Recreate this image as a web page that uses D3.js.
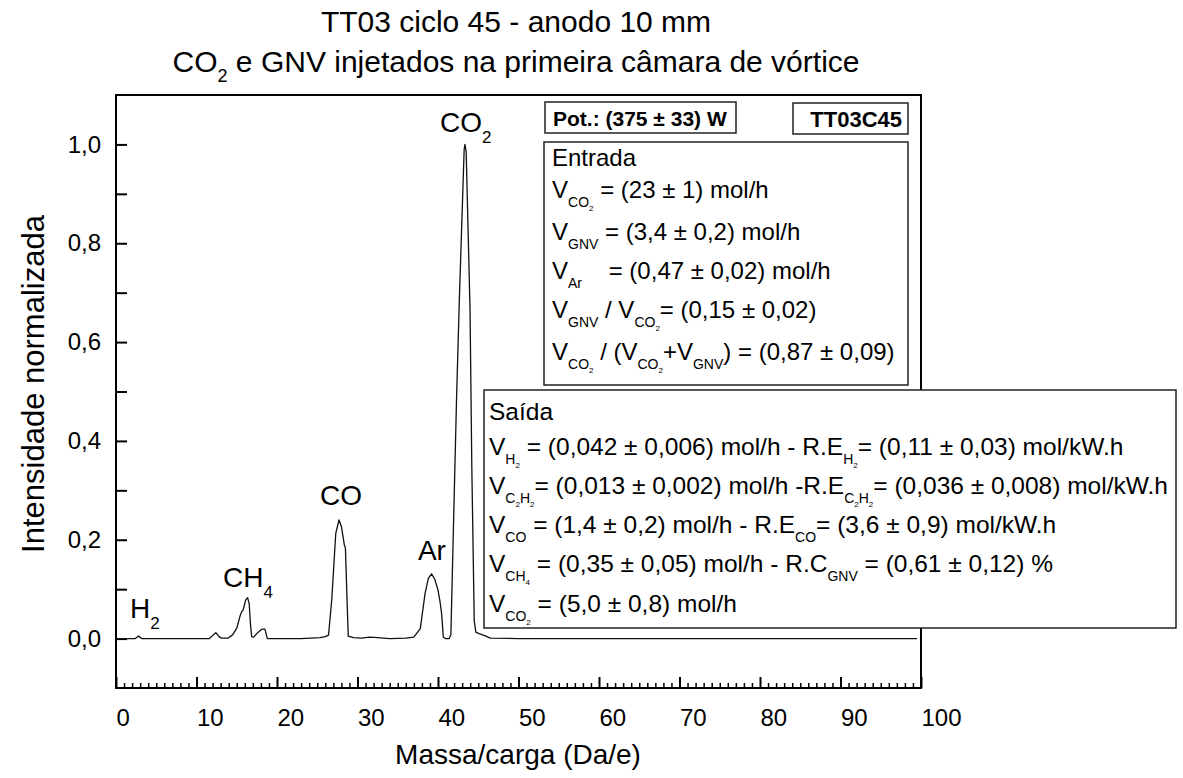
<!DOCTYPE html>
<html><head><meta charset="utf-8">
<script src="https://cdn.jsdelivr.net/npm/d3@7"></script>
<style>
body{margin:0;background:#fff}
svg{display:block}
text{font-family:Arial,"Liberation Sans",sans-serif;fill:#000}
</style>
</head><body>
<svg id="chart" width="1183" height="778"></svg>
<script>
// ---- data ----
const massa = [1.0,2.4,2.8,3.2,6,9,11.6,12.0,12.4,12.8,13.1,13.95,14.5,15.0,15.4,15.6,15.8,16.1,16.35,16.55,16.7,16.85,17.1,17.6,18.1,18.5,18.8,20,23,25.35,26.0,26.4,26.8,27.3,27.7,28.0,28.36,28.5,28.7,28.85,29.5,30.5,31.5,32.5,34,36,37.0,37.8,38.4,38.8,39.2,39.6,40.0,40.25,40.45,40.66,40.9,41.4,41.6,41.9,42.3,42.65,43.25,43.35,43.5,43.98,44.2,44.5,44.7,45.1,45.8,46.5,50,60,70,80,90,99.5];
const intensidade = [0.0,0.0,0.005,0.0,0.0,0.0,0.0,0.006,0.012,0.004,0.001,0.001,0.008,0.021,0.045,0.054,0.058,0.078,0.083,0.07,0.03,0.004,0.003,0.012,0.019,0.019,0.0,0.0,0.0,0.002,0.004,0.007,0.078,0.213,0.24,0.227,0.19,0.183,0.078,0.005,0.002,0.001,0.003,0.002,0.0,0.001,0.003,0.02,0.092,0.122,0.131,0.12,0.098,0.075,0.05,0.003,0.0,0.0,0.008,0.213,0.483,0.685,0.99,1.0,0.985,0.665,0.348,0.036,0.013,0.01,0.006,0.001,0.0,0.0,0.0,0.0,0.0,0.0];

const xMajorTicks = [0,10,20,30,40,50,60,70,80,90,100];
const xMinorTicks = d3.range(0,101,1).filter(v => v % 10 !== 0);
const yMajorTicks = [0,0.2,0.4,0.6,0.8,1.0];
const yTickLabels = ["0,0","0,2","0,4","0,6","0,8","1,0"];
const yMinorTicks = [0.1,0.3,0.5,0.7,0.9];

const titleLine1 = [["TT03 ciclo 45 - anodo 10 mm",0]];
const titleLine2 = [["CO",0],["2",1],[" e GNV injetados na primeira câmara de vórtice",0]];
const xTitle = "Massa/carga (Da/e)";
const yTitle = "Intensidade normalizada";

// peak labels: [segments, massa, intensidade]
const peakLabels = [
  [[["H",0],["2",1]], 1.74, 0.042],
  [[["CH",0],["4",1]], 13.3, 0.104],
  [[["CO",0]], 25.34, 0.27],
  [[["Ar",0]], 37.5, 0.159],
  [[["CO",0],["2",1]], 40.25, 1.025]
];

const potText = "Pot.: (375 ± 33) W";
const idText = "TT03C45";
const entradaLines = [
  [["Entrada",0]],
  [["V",0],["CO",1],["2",2],[" = (23 ± 1) mol/h",0]],
  [["V",0],["GNV",1],[" = (3,4 ± 0,2) mol/h",0]],
  [["V",0],["Ar",1],["    = (0,47 ± 0,02) mol/h",0]],
  [["V",0],["GNV",1],[" / V",0],["CO",1],["2",2],["= (0,15 ± 0,02)",0]],
  [["V",0],["CO",1],["2",2],[" / (V",0],["CO",1],["2",2],["+V",0],["GNV",1],[") = (0,87 ± 0,09)",0]]
];
const saidaLines = [
  [["Saída",0]],
  [["V",0],["H",1],["2",2],[" = (0,042 ± 0,006) mol/h - R.E",0],["H",1],["2",2],["= (0,11 ± 0,03) mol/kW.h",0]],
  [["V",0],["C",1],["2",2],["H",1],["2",2],["= (0,013 ± 0,002) mol/h -R.E",0],["C",1],["2",2],["H",1],["2",2],["= (0,036 ± 0,008) mol/kW.h",0]],
  [["V",0],["CO",1],[" = (1,4 ± 0,2) mol/h - R.E",0],["CO",1],["= (3,6 ± 0,9) mol/kW.h",0]],
  [["V",0],["CH",1],["4",2],[" = (0,35 ± 0,05) mol/h - R.C",0],["GNV",1],[" = (0,61 ± 0,12) %",0]],
  [["V",0],["CO",1],["2",2],[" = (5,0 ± 0,8) mol/h",0]]
];

// ---- layout ----
const svg = d3.select("#chart");
const L = 116, R = 921, T = 95, B = 688;
const x = d3.scaleLinear().domain([0,100]).range([L,R]);
const y = d3.scaleLinear().domain([-0.1,1.1]).range([B,T]);

function rich(g, px, py, segs, o) {
  const t = g.append("text").attr("x",px).attr("y",py)
    .attr("font-size",o.size).attr("text-anchor",o.anchor||"start")
    .style("white-space","pre");
  if (o.weight) t.attr("font-weight",o.weight);
  let cur = 0;
  segs.forEach(([s,lvl]) => {
    const off = o.offs[lvl];
    const fs = o.sizes[lvl];
    t.append("tspan").attr("dy", off-cur).attr("font-size",fs).text(s);
    cur = off;
  });
  return t;
}

// frame
svg.append("rect").attr("x",L).attr("y",T).attr("width",R-L).attr("height",B-T)
  .attr("fill","none").attr("stroke","#000").attr("stroke-width",2);

// x axis
const gx = svg.append("g").attr("transform",`translate(0,${B})`);
gx.call(d3.axisBottom(x).tickValues(xMajorTicks).tickSize(-11).tickPadding(21).tickFormat(d=>String(d)));
gx.select(".domain").remove();
gx.selectAll("line").attr("stroke-width",2);
gx.selectAll("text").attr("text-anchor","start").attr("font-size",24)
  .style("font-family","Arial, 'Liberation Sans', sans-serif");
const gxm = svg.append("g").attr("transform",`translate(0,${B})`);
gxm.call(d3.axisBottom(x).tickValues(xMinorTicks).tickSize(-5).tickFormat(""));
gxm.select(".domain").remove();
gxm.selectAll("line").attr("stroke-width",1.5);

// y axis
const gy = svg.append("g").attr("transform",`translate(${L},0)`);
gy.call(d3.axisLeft(y).tickValues(yMajorTicks).tickSize(-11).tickPadding(15)
  .tickFormat((d,i)=>yTickLabels[i]));
gy.select(".domain").remove();
gy.selectAll("line").attr("stroke-width",2);
gy.selectAll("text").attr("font-size",24).style("font-family","Arial, 'Liberation Sans', sans-serif");
const gym = svg.append("g").attr("transform",`translate(${L},0)`);
gym.call(d3.axisLeft(y).tickValues(yMinorTicks).tickSize(-11).tickFormat(""));
gym.select(".domain").remove();
gym.selectAll("line").attr("stroke-width",2);

// curve
svg.append("clipPath").attr("id","clip").append("rect")
  .attr("x",L+1).attr("y",T+1).attr("width",R-L-2).attr("height",B-T-2);
const pts = massa.map((m,i)=>[m,intensidade[i]]);
svg.append("path").datum(pts).attr("clip-path","url(#clip)")
  .attr("fill","none").attr("stroke","#111").attr("stroke-width",1.3)
  .attr("stroke-linejoin","round")
  .attr("d", d3.line().x(d=>x(d[0])).y(d=>y(d[1])));

// peak labels
const gl = svg.append("g");
peakLabels.forEach(([segs,m,v]) => {
  rich(gl, x(m), y(v), segs, {size:28, sizes:[28,17], offs:[0,11]});
});

// titles
const gt = svg.append("g");
rich(gt, 516, 32, titleLine1, {size:30, sizes:[30], offs:[0], anchor:"middle"});
rich(gt, 516, 72, titleLine2, {size:30, sizes:[30,18], offs:[0,10], anchor:"middle"});
svg.append("text").attr("x",518).attr("y",764).attr("text-anchor","middle")
  .attr("font-size",28).text(xTitle);
svg.append("text").attr("transform","translate(44,384) rotate(-90)")
  .attr("text-anchor","middle").attr("font-size",31).text(yTitle);

// info boxes
const gb = svg.append("g");
function box(x0,y0,x1,y1,sw){
  gb.append("rect").attr("x",x0).attr("y",y0).attr("width",x1-x0).attr("height",y1-y0)
    .attr("fill","#fff").attr("stroke","#222").attr("stroke-width",sw);
}
box(545,102,736,133,1.5);
gb.append("text").attr("x",553).attr("y",126).attr("font-size",21).attr("font-weight","bold").text(potText);
box(793,103,908,134,1.5);
gb.append("text").attr("x",902).attr("y",127).attr("text-anchor","end").attr("font-size",22).attr("font-weight","bold").text(idText);
box(544,142,908,385,1.5);
const entradaY = [166,198,240,279,318,360];
entradaLines.forEach((segs,i)=>{
  rich(gb, 552, entradaY[i], segs, {size:24, sizes:[24,14,8], offs:[0,9,13]});
});
box(484,390,1176,628,1.5);
const saidaY = [420,455,494,533,572,612];
saidaLines.forEach((segs,i)=>{
  rich(gb, 489, saidaY[i], segs, {size:24.5, sizes:[24.5,14,8], offs:[0,9,13]});
});
</script>
</body></html>
